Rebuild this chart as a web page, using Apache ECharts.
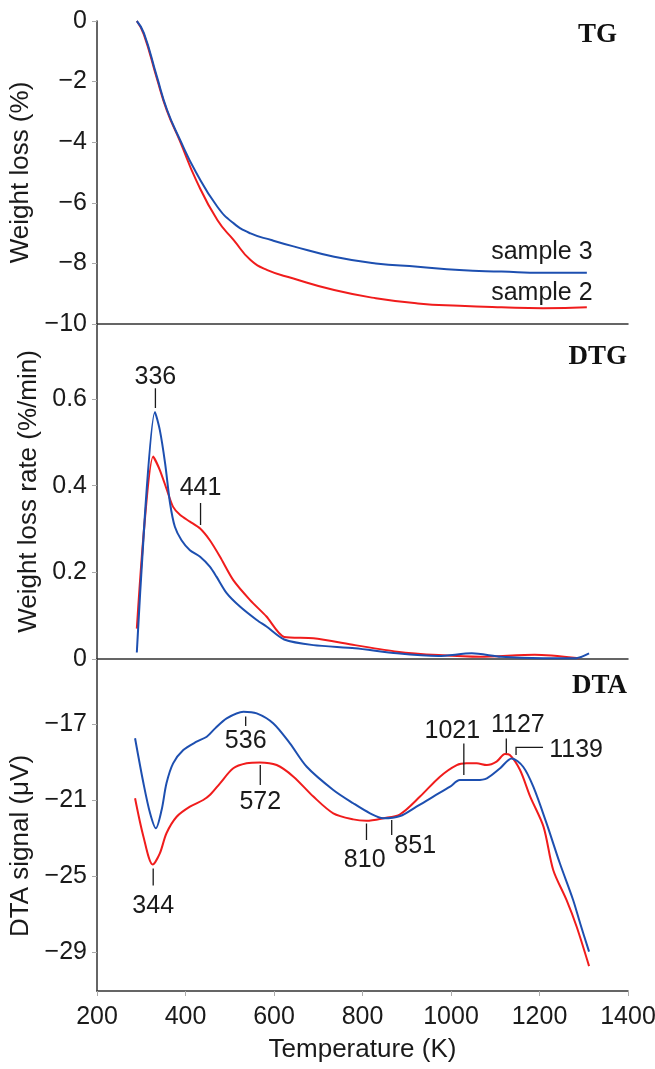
<!DOCTYPE html>
<html>
<head>
<meta charset="utf-8">
<title>TG / DTG / DTA</title>
<script src="https://cdn.jsdelivr.net/npm/echarts@6/dist/echarts.min.js"></script>
<style>
	html, body { margin: 0; padding: 0; background: #fff; }
	#main { width: 655px; height: 1069px; }
</style>
</head>
<body>
<div id="main"></div>
<script>
// TG (weight loss, %)
var tgTemp3 = [290, 306, 335, 358, 387, 424, 472, 509, 547, 594, 642, 736, 830, 925, 1019, 1114, 1208, 1307];
var tgSample3 = [0, -0.4, -1.82, -2.92, -3.9, -5.0, -6.13, -6.68, -7.01, -7.23, -7.43, -7.78, -8.0, -8.11, -8.22, -8.27, -8.31, -8.31];
var tgTemp2 = [290, 306, 335, 358, 387, 424, 472, 509, 547, 585, 642, 736, 830, 925, 1019, 1114, 1208, 1307];
var tgSample2 = [0, -0.45, -1.88, -2.96, -3.95, -5.25, -6.57, -7.23, -7.89, -8.22, -8.49, -8.88, -9.15, -9.32, -9.40, -9.45, -9.48, -9.45];

// DTG (weight loss rate, %/min)
var dtgTemp3 = [290, 331, 342, 354, 365, 376, 391, 410, 433, 455, 470, 493, 523, 561, 583, 623, 689, 783, 878, 972, 1047, 1113, 1208, 1283, 1312];
var dtgSample3 = [0.015, 0.57, 0.528, 0.451, 0.36, 0.305, 0.274, 0.251, 0.236, 0.213, 0.19, 0.152, 0.121, 0.09, 0.075, 0.045, 0.032, 0.025, 0.013, 0.007, 0.013, 0.005, 0.002, 0.002, 0.013];
var dtgTemp2 = [290, 327, 342, 358, 372, 388, 410, 433, 455, 478, 508, 546, 583, 623, 689, 783, 878, 972, 1066, 1189, 1290];
var dtgSample2 = [0.07, 0.467, 0.436, 0.39, 0.351, 0.332, 0.317, 0.301, 0.274, 0.236, 0.182, 0.136, 0.098, 0.051, 0.048, 0.032, 0.017, 0.009, 0.005, 0.01, 0.002];

// DTA (signal, µV)
var dtaTemp3 = [286, 305, 320, 333, 346, 357, 372, 395, 425, 448, 467, 493, 531, 561, 598, 636, 674, 734, 779, 817, 847, 885, 922, 960, 998, 1020, 1058, 1081, 1111, 1137, 1163, 1186, 1216, 1246, 1276, 1292, 1312];
var dtaSample3 = [-17.75, -20.12, -21.7, -22.49, -21.53, -20.12, -19.07, -18.37, -17.93, -17.67, -17.23, -16.70, -16.35, -16.44, -16.96, -18.02, -19.25, -20.47, -21.17, -21.70, -21.96, -21.84, -21.35, -20.82, -20.3, -19.95, -19.95, -19.86, -19.33, -18.81, -19.25, -20.3, -22.23, -24.33, -26.26, -27.5, -28.98];
var dtaTemp2 = [286, 305, 326, 342, 357, 380, 410, 440, 455, 478, 508, 538, 568, 606, 644, 689, 734, 779, 809, 847, 885, 930, 975, 1013, 1035, 1058, 1081, 1103, 1122, 1133, 1156, 1179, 1209, 1231, 1261, 1284, 1312];
var dtaSample2 = [-20.91, -22.93, -24.4, -23.81, -22.75, -21.88, -21.35, -21.0, -20.74, -20.12, -19.33, -19.07, -19.02, -19.16, -19.77, -20.82, -21.70, -22.02, -22.09, -21.96, -21.75, -20.82, -19.77, -19.16, -19.07, -19.07, -19.16, -18.98, -18.58, -18.63, -19.42, -20.82, -22.4, -24.68, -26.26, -27.67, -29.74];

// tick labels
var xTicks = [200, 400, 600, 800, 1000, 1200, 1400];
var dtgTicks = [0, 0.2, 0.4, 0.6];
var dtaTicks = [-29, -25, -21, -17];

// peak marks: text, tick temperature, tick from / to, label temperature / value
var dtgMarkText = ['336', '441'];
var dtgMarkTemp = [332, 434];
var dtgMarkFrom = [0.625, 0.36];
var dtgMarkTo = [0.579, 0.309];
var dtgLabelTemp = [332, 434];
var dtgLabelVal = [0.651, 0.394];

var dtaMarkText = ['344', '536', '572', '810', '851', '1021', '1127', '1139'];
var dtaMarkTemp = [327, 536, 569, 809, 866, 1029, 1125, 1147];
var dtaMarkFrom = [-24.6, -16.6, -19.16, -22.23, -22.05, -18.02, -17.76, -18.63];
var dtaMarkTo = [-25.5, -17.1, -20.21, -23.1, -22.84, -19.68, -18.54, -18.23];
var dtaLabelTemp = [327, 536, 569, 805, 872, 1003, 1151, 1222];
var dtaLabelVal = [-26.6, -17.9, -21.1, -24.16, -23.4, -17.4, -17.05, -18.37];
var dtaLabelAlign = ['center', 'center', 'center', 'center', 'left', 'center', 'center', 'left'];
var dta1139Elbow = 1208; // end of the horizontal leader for 1139

var sampleNames = ['sample 3', 'sample 2'];
var sampleLabelTemp = [1320, 1320];
var sampleLabelVal = [-7.62, -8.98];

$chart = {
	blue: '#1d4fb0',
	red: '#f01c1c',
	ink: '#1a1a1a',
	font: 'Liberation Sans, Arial, sans-serif',
	init: function() {
		this.dom = document.getElementById('main');
		this.obj = echarts.init(this.dom, null, { renderer: 'canvas' });
		this.obj.setOption(this.option());
	},
	pairs: function(xs, ys) {
		var out = [];
		for (var i = 0; i < xs.length; i++) {
			out.push([xs[i], ys[i]]);
		}
		return out;
	},
	curve: function(name, idx, xs, ys, color, smooth) {
		return {
			name: name,
			type: 'line',
			xAxisIndex: idx,
			yAxisIndex: idx,
			data: this.pairs(xs, ys),
			showSymbol: false,
			smooth: smooth,
			lineStyle: { color: color, width: 2 },
			z: color == this.red ? 3 : 4,
			silent: true
		};
	},
	ticks: function(idx, temps, from, to) {
		var data = [];
		for (var i = 0; i < temps.length; i++) {
			data.push({ coords: [[temps[i], from[i]], [temps[i], to[i]]] });
		}
		return {
			type: 'lines',
			coordinateSystem: 'cartesian2d',
			xAxisIndex: idx,
			yAxisIndex: idx,
			polyline: true,
			silent: true,
			lineStyle: { color: this.ink, width: 1.3, opacity: 1 },
			data: data,
			z: 5
		};
	},
	labels: function(idx, texts, temps, vals, aligns) {
		var data = [];
		for (var i = 0; i < texts.length; i++) {
			data.push({
				name: texts[i],
				value: [temps[i], vals[i]],
				label: { align: aligns ? aligns[i] : 'center' }
			});
		}
		return {
			type: 'scatter',
			xAxisIndex: idx,
			yAxisIndex: idx,
			symbolSize: 0,
			silent: true,
			itemStyle: { opacity: 1 },
			label: {
				show: true,
				position: 'inside',
				formatter: '{b}',
				color: this.ink,
				opacity: 1,
				fontFamily: this.font,
				fontSize: 25,
				verticalAlign: 'middle'
			},
			data: data,
			z: 6
		};
	},
	xAxis: function(idx, bottom) {
		return {
			type: 'value',
			gridIndex: idx,
			min: 200,
			max: 1400,
			interval: 200,
			name: bottom ? 'Temperature (K)' : '',
			nameLocation: 'middle',
			nameGap: 46,
			nameTextStyle: { color: this.ink, fontFamily: this.font, fontSize: 26 },
			axisLine: { show: true, onZero: false, lineStyle: { color: '#333', width: 1.5 } },
			axisTick: { show: bottom, length: 5, lineStyle: { color: '#aaa' } },
			axisLabel: {
				show: bottom,
				color: this.ink,
				fontFamily: this.font,
				fontSize: 25,
				margin: 14,
				formatter: function(v) {
					return String(v);
				}
			},
			splitLine: { show: false }
		};
	},
	yAxis: function(idx, name, min, max, ticks, pad) {
		var ax = {
			type: 'value',
			gridIndex: idx,
			min: min,
			max: max,
			name: name,
			nameLocation: 'middle',
			nameGap: 55,
			nameTextStyle: { color: this.ink, fontFamily: this.font, fontSize: 26, padding: pad || 0 },
			axisLine: { show: true, onZero: false, lineStyle: { color: '#333', width: 1.5 } },
			axisTick: { show: true, length: 5, lineStyle: { color: '#aaa' } },
			axisLabel: {
				color: this.ink,
				fontFamily: this.font,
				fontSize: 25,
				margin: 10,
				formatter: function(v) {
					return String(v).replace('-', '\u2212');
				}
			},
			splitLine: { show: false }
		};
		if (ticks) {
			ax.axisTick.customValues = ticks;
			ax.axisLabel.customValues = ticks;
		} else {
			ax.interval = 2;
		}
		return ax;
	},
	panelTitle: function(text, right, cy) {
		return {
			type: 'text',
			x: right,
			y: cy,
			silent: true,
			style: {
				text: text,
				fill: '#111',
				font: 'bold 27px "Liberation Serif", "Times New Roman", serif',
				textAlign: 'right',
				textVerticalAlign: 'middle'
			}
		};
	},
	option: function() {
		var dtaFrom = dtaMarkFrom.slice(), dtaTo = dtaMarkTo.slice();
		var dtaLines = this.ticks(2, dtaMarkTemp.slice(0, 7), dtaFrom.slice(0, 7), dtaTo.slice(0, 7));
		// 1139 uses an elbow leader
		dtaLines.data.push({
			coords: [[dtaMarkTemp[7], dtaFrom[7]], [dtaMarkTemp[7], dtaTo[7]], [dta1139Elbow, dtaTo[7]]]
		});
		var g = { left: 97, right: 27, outerBoundsMode: 'none', containLabel: false };

		return {
			animation: false,
			backgroundColor: '#fff',
			grid: [
				Object.assign({ top: 21, height: 303 }, g),
				Object.assign({ top: 324, height: 335 }, g),
				Object.assign({ top: 659, height: 332 }, g)
			],
			xAxis: [this.xAxis(0, false), this.xAxis(1, false), this.xAxis(2, true)],
			yAxis: [
				this.yAxis(0, 'Weight loss (%)', -10, 0, null),
				this.yAxis(1, 'Weight loss rate (%/min)', 0, 0.773, dtgTicks),
				this.yAxis(2, 'DTA signal (\u03bcV)', -31.05, -13.58, dtaTicks, [0, 42, 0, 0])
			],
			graphic: [
				this.panelTitle('TG', 617, 35),
				this.panelTitle('DTG', 627, 357),
				this.panelTitle('DTA', 627, 686)
			],
			series: [
				this.curve('sample 2', 0, tgTemp2, tgSample2, this.red, 0.5),
				this.curve('sample 3', 0, tgTemp3, tgSample3, this.blue, 0.5),
				this.labels(0, sampleNames, sampleLabelTemp, sampleLabelVal, ['right', 'right']),

				this.curve('sample 2', 1, dtgTemp2, dtgSample2, this.red, 0.25),
				this.curve('sample 3', 1, dtgTemp3, dtgSample3, this.blue, 0.25),
				this.ticks(1, dtgMarkTemp, dtgMarkFrom, dtgMarkTo),
				this.labels(1, dtgMarkText, dtgLabelTemp, dtgLabelVal),

				this.curve('sample 2', 2, dtaTemp2, dtaSample2, this.red, 0.3),
				this.curve('sample 3', 2, dtaTemp3, dtaSample3, this.blue, 0.3),
				dtaLines,
				this.labels(2, dtaMarkText, dtaLabelTemp, dtaLabelVal, dtaLabelAlign)
			]
		};
	}
};

$chart.init();
</script>
</body>
</html>
